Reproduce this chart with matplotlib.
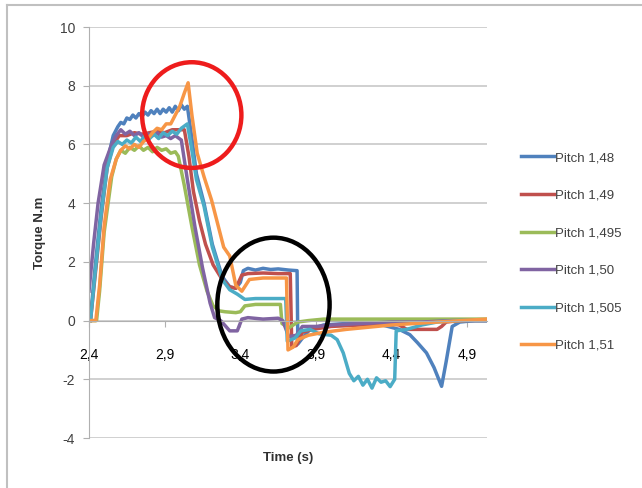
import matplotlib
matplotlib.use("Agg")
import matplotlib.pyplot as plt
from matplotlib.patches import Ellipse
from matplotlib.lines import Line2D

plt.rcParams['font.family'] = ['Liberation Sans', 'DejaVu Sans']

# torque traces (time in s, torque in N.m)
t_148 = [2.41, 2.44, 2.48, 2.52, 2.56,
         2.59, 2.61, 2.63, 2.65, 2.67, 2.69, 2.71, 2.73, 2.75, 2.77, 2.79, 2.81, 2.83, 2.85,
         2.87, 2.89, 2.91, 2.93, 2.95, 2.97, 2.99, 3.01, 3.03, 3.05,
         3.08, 3.11, 3.16, 3.215, 3.28, 3.33, 3.37, 3.40, 3.42, 3.45, 3.50, 3.55, 3.60, 3.65,
         3.72, 3.775, 3.78, 3.81, 3.86, 3.95, 4.10, 4.30, 4.45, 4.52, 4.57, 4.63, 4.68, 4.73, 4.76,
         4.80, 4.85, 4.95, 5.03]
y_148 = [0.1, 1.8, 3.8, 5.4, 6.3,
         6.6, 6.75, 6.7, 6.9, 6.85, 7.0, 6.9, 7.05, 6.95, 7.1, 7.0, 7.15, 7.05, 7.2,
         7.05, 7.2, 7.1, 7.25, 7.1, 7.3, 7.15, 7.35, 7.2, 7.3,
         6.2, 5.0, 4.0, 2.6, 1.5, 1.15, 1.1, 1.3, 1.7, 1.78, 1.72, 1.78, 1.74, 1.76,
         1.72, 1.7, -0.8, -0.6, -0.3, -0.15, -0.1, -0.1, -0.3, -0.48, -0.75, -1.1, -1.6, -2.24, -1.4,
         -0.2, -0.05, 0.0, 0.0]

t_149 = [2.41, 2.44, 2.48, 2.52, 2.56, 2.60, 2.65, 2.70, 2.75, 2.80, 2.85, 2.90, 2.95, 3.00,
         3.03, 3.06, 3.09, 3.13, 3.17, 3.22, 3.28, 3.33, 3.37, 3.41, 3.45, 3.55, 3.65, 3.73, 3.74,
         3.77, 3.81, 3.88, 4.00, 4.20, 4.40, 4.45, 4.50, 4.60, 4.70, 4.73, 4.76, 4.85, 5.03]
y_149 = [0.0, 1.5, 3.5, 5.2, 6.0, 6.3, 6.3, 6.4, 6.35, 6.4, 6.45, 6.4, 6.5, 6.5,
         6.5, 5.6, 4.4, 3.4, 2.6, 1.9, 1.4, 1.15, 1.1, 1.55, 1.6, 1.62, 1.6, 1.6, -0.9,
         -0.85, -0.4, -0.3, -0.2, -0.15, -0.1, -0.15, -0.3, -0.3, -0.3, -0.2, -0.05, 0.0, 0.0]

t_1495 = [2.40, 2.45, 2.47, 2.50, 2.55, 2.58,
          2.61, 2.64, 2.67, 2.70, 2.73, 2.76, 2.79, 2.82, 2.85, 2.88, 2.91, 2.94, 2.97, 2.99,
          3.03, 3.08, 3.13, 3.18, 3.22, 3.26, 3.30, 3.37, 3.40, 3.43, 3.50, 3.60, 3.665, 3.675,
          3.72, 3.78, 3.85, 3.95, 4.20, 4.60, 5.03]
y_1495 = [0.0, 0.0, 1.0, 3.0, 4.9, 5.5,
          5.8, 5.7, 5.9, 5.8, 5.95, 5.8, 5.9, 5.75, 5.9, 5.8, 5.85, 5.7, 5.75, 5.6,
          4.6, 3.2, 1.9, 1.0, 0.5, 0.33, 0.3, 0.27, 0.3, 0.5, 0.55, 0.55, 0.55, -0.1,
          -0.25, -0.05, 0.0, 0.05, 0.05, 0.05, 0.05]

t_150 = [2.40, 2.43, 2.46, 2.50, 2.55, 2.58,
         2.61, 2.64, 2.67, 2.70, 2.73, 2.76, 2.79, 2.82, 2.85, 2.88, 2.91, 2.94, 2.97, 3.01,
         3.05, 3.10, 3.15, 3.20, 3.23, 3.27, 3.33, 3.38, 3.41, 3.45, 3.55, 3.65, 3.68, 3.72,
         3.77, 3.81, 3.90, 4.00, 4.20, 4.40, 4.60, 4.80, 5.03]
y_150 = [1.0, 2.6, 4.0, 5.3, 6.0, 6.3,
         6.5, 6.35, 6.45, 6.3, 6.4, 6.25, 6.35, 6.3, 6.4, 6.25, 6.3, 6.2, 6.3, 6.15,
         4.8, 3.2, 1.8, 0.6, 0.1, 0.0, -0.35, -0.35, 0.05, 0.1, 0.05, 0.08, 0.0, -0.55,
         -0.5, -0.2, -0.2, -0.15, -0.1, -0.05, -0.05, 0.0, 0.0]

t_1505 = [2.41, 2.44, 2.48, 2.52, 2.56,
          2.59, 2.62, 2.65, 2.68, 2.71, 2.74, 2.77, 2.80, 2.83, 2.86, 2.89, 2.92, 2.95, 2.98,
          3.01, 3.05, 3.08, 3.11, 3.16, 3.215, 3.28, 3.33, 3.38, 3.43, 3.50, 3.60, 3.70, 3.71,
          3.76, 3.80, 3.86, 3.92, 4.00, 4.04, 4.08, 4.12, 4.15, 4.18, 4.21, 4.24, 4.27, 4.30,
          4.33, 4.36, 4.39, 4.42, 4.43, 4.50, 4.60, 4.70, 4.85, 5.03]
y_1505 = [0.0, 1.6, 3.6, 5.2, 5.9,
          6.1, 6.0, 6.15, 6.05, 6.25, 6.1, 6.3, 6.2, 6.35, 6.2, 6.4, 6.3, 6.45, 6.35,
          6.55, 6.7, 5.8, 4.8, 3.9, 2.5, 1.4, 1.05, 0.9, 0.72, 0.75, 0.75, 0.75, -0.7,
          -0.6, -0.35, -0.3, -0.45, -0.5, -0.65, -1.1, -1.8, -2.05, -1.9, -2.2, -2.0, -2.3, -1.95,
          -2.1, -2.05, -2.25, -2.0, -0.35, -0.3, -0.15, -0.05, 0.0, 0.0]

t_151 = [2.40, 2.445, 2.47, 2.50, 2.54, 2.58,
         2.61, 2.64, 2.67, 2.70, 2.73, 2.76, 2.79, 2.82, 2.85, 2.88, 2.91, 2.94,
         2.97, 3.00, 3.03, 3.055, 3.08, 3.115, 3.16, 3.21, 3.25, 3.29, 3.33, 3.37, 3.41,
         3.46, 3.55, 3.65, 3.705, 3.715, 3.75, 3.78, 3.85, 3.95, 4.10, 4.40, 4.70, 5.03]
y_151 = [0.0, 0.0, 1.2, 3.2, 4.8, 5.5,
         5.8, 5.95, 5.85, 6.0, 5.9, 6.1, 6.2, 6.4, 6.55, 6.5, 6.7, 6.7,
         7.0, 7.3, 7.75, 8.1, 7.0, 5.7, 4.9, 4.1, 3.3, 2.5, 2.2, 1.2, 1.0,
         1.4, 1.45, 1.45, 1.45, -1.0, -0.9, -0.65, -0.5, -0.4, -0.3, -0.15, -0.05, 0.05]

series = [("Pitch 1,48", t_148, y_148, "#4F81BD"),
          ("Pitch 1,49", t_149, y_149, "#C0504D"),
          ("Pitch 1,495", t_1495, y_1495, "#9BBB59"),
          ("Pitch 1,50", t_150, y_150, "#8064A2"),
          ("Pitch 1,505", t_1505, y_1505, "#4BACC6"),
          ("Pitch 1,51", t_151, y_151, "#F79646")]

x_ticks = [2.4, 2.9, 3.4, 3.9, 4.4, 4.9]
x_labels = ["2,4", "2,9", "3,4", "3,9", "4,4", "4,9"]
y_ticks = [-4, -2, 0, 2, 4, 6, 8, 10]

fig = plt.figure(figsize=(6.42, 4.88), dpi=100)
ax = fig.add_axes([89 / 642, 1 - 438 / 488, 398 / 642, 411 / 488])

for name, t, y, c in series:
    ax.plot(t, y, color=c, lw=2.5, label=name, solid_joinstyle='round')

ax.set_xlim(2.4, 5.03)
ax.set_ylim(-4, 10)
ax.set_yticks(y_ticks)
ax.set_yticklabels([str(v) for v in y_ticks], fontsize=10, color='#404040')
ax.set_xticks(x_ticks)
ax.set_xticklabels(x_labels, fontsize=10, color='#404040')
ax.grid(axis='y', color='#c8c8c8', lw=1.2)
ax.set_axisbelow(True)
for s in ['top', 'right']:
    ax.spines[s].set_visible(False)
ax.spines['left'].set_color('#b0b0b0')
ax.spines['bottom'].set_position(('data', 0))
ax.spines['bottom'].set_color('#b0b0b0')
ax.tick_params(axis='x', length=4, color='#b0b0b0', pad=16)
ax.tick_params(axis='y', length=4, color='#b0b0b0', pad=6)

ax.set_ylabel("Torque N.m", fontsize=9.5, fontweight='bold', color='#303030', labelpad=10)
fig.text(288 / 642, 1 - 458 / 488, "Time (s)", fontsize=9.5, fontweight='bold',
         color='#303030', ha='center', va='center')

# annotation circles
ax.add_patch(Ellipse((3.079, 7.0), 0.656, 3.6, fill=False, ec='#ee1c1c', lw=3.2, zorder=5))
ax.add_patch(Ellipse((3.619, 0.544), 0.742, 4.56, fill=False, ec='black', lw=3.2, zorder=5))

leg = fig.legend(loc='upper left', bbox_to_anchor=(509 / 642, 1 - 140 / 488), frameon=False,
                 fontsize=9.5, handlelength=2.5, handletextpad=0.1, labelspacing=1.92)
for txt in leg.get_texts():
    txt.set_color('#404040')

# outer frame (left and top edges)
fig.add_artist(Line2D([7 / 642, 7 / 642], [0, 1 - 5 / 488], color='#c0c0c0', lw=1.5))
fig.add_artist(Line2D([7 / 642, 1], [1 - 5 / 488, 1 - 5 / 488], color='#c0c0c0', lw=1.5))

fig.savefig("out.png", dpi=100)
